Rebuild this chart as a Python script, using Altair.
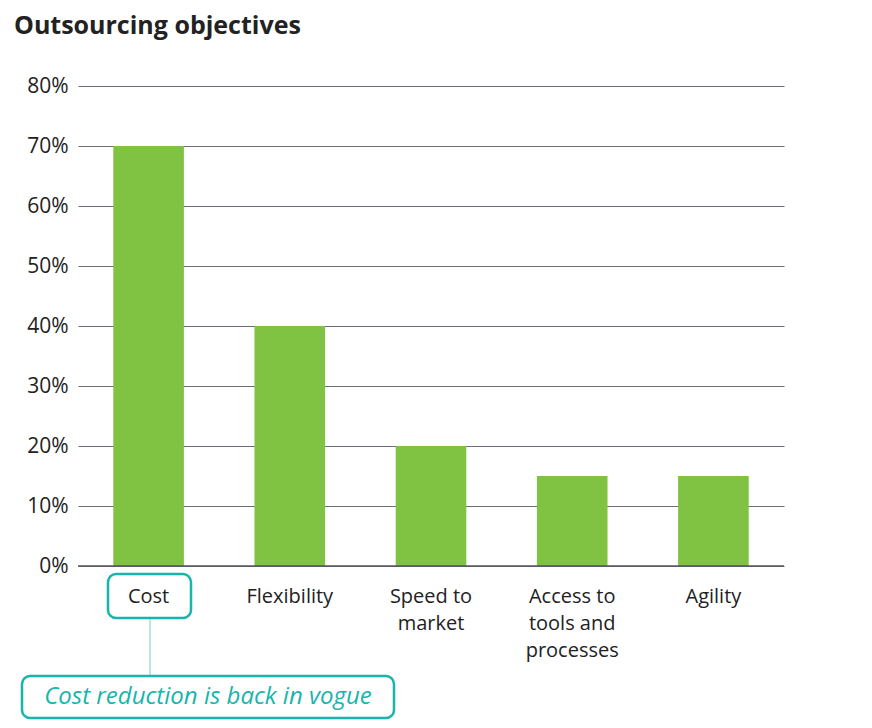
import altair as alt
import pandas as pd

categories = ["Cost", "Flexibility", "Speed to|market", "Access to|tools and|processes", "Agility"]
values = [0.70, 0.40, 0.20, 0.15, 0.15]
y_ticks = [0, 0.1, 0.2, 0.3, 0.4, 0.5, 0.6, 0.7, 0.8]

df = pd.DataFrame({"cat": categories, "val": values})

FONT = "Open Sans"
TEAL = "#17b5ad"

bars = alt.Chart(df).mark_bar(color="#80c242").encode(
    x=alt.X("cat:N", sort=categories,
            scale=alt.Scale(paddingInner=0.5, paddingOuter=0.25),
            axis=alt.Axis(title=None, labelAngle=0, labelExpr="split(datum.label, '|')",
                          labelFont=FONT, labelFontSize=20, labelColor="#222222",
                          labelPadding=20, labelLineHeight=27, labelBaseline="top",
                          ticks=False, domain=False, grid=False)),
    y=alt.Y("val:Q", scale=alt.Scale(domain=[0, 0.8]),
            axis=alt.Axis(title=None, format=".0%", values=y_ticks,
                          labelFont=FONT, labelFontSize=21, labelColor="#222222",
                          labelPadding=10, ticks=False, domain=False,
                          grid=True, gridColor="#6e6e78", gridWidth=1.2)),
)

zero = alt.Chart(pd.DataFrame({"z": [0]})).mark_rule(color="#555560", strokeWidth=1.5).encode(
    y="z:Q"
)

box_small = alt.Chart(pd.DataFrame({"a": [0]})).mark_rect(
    fill="white", fillOpacity=0, stroke=TEAL, strokeWidth=2.5, cornerRadius=8, clip=False
).encode(x=alt.value(30), x2=alt.value(113), y=alt.value(488), y2=alt.value(532))

conn = alt.Chart(pd.DataFrame({"a": [0]})).mark_rule(color="#8fd6d1", strokeWidth=1.2, clip=False).encode(
    x=alt.value(72), y=alt.value(533), y2=alt.value(590)
)

box_big = alt.Chart(pd.DataFrame({"a": [0]})).mark_rect(
    fill="white", fillOpacity=0, stroke=TEAL, strokeWidth=2.5, cornerRadius=8, clip=False
).encode(x=alt.value(-56), x2=alt.value(316), y=alt.value(590), y2=alt.value(632))

note = alt.Chart(pd.DataFrame({"t": ["Cost reduction is back in vogue"]})).mark_text(
    font=FONT, fontSize=24, fontStyle="italic", color=TEAL, align="center", baseline="middle", clip=False
).encode(text="t:N", x=alt.value(130), y=alt.value(611))

chart = alt.layer(bars, zero, box_small, conn, box_big, note).properties(
    width=706, height=480,
    title=alt.TitleParams("Outsourcing objectives", anchor="start", frame="group", font=FONT,
                          fontSize=25, fontWeight="bold", color="#222222", dx=-64, offset=36),
    autosize=alt.AutoSizeParams(type="none"),
    padding={"left": 70, "top": 78, "right": 80, "bottom": 154},
).configure_view(stroke=None)

chart.save("out.html", embed_options={"renderer": "svg", "actions": False})
